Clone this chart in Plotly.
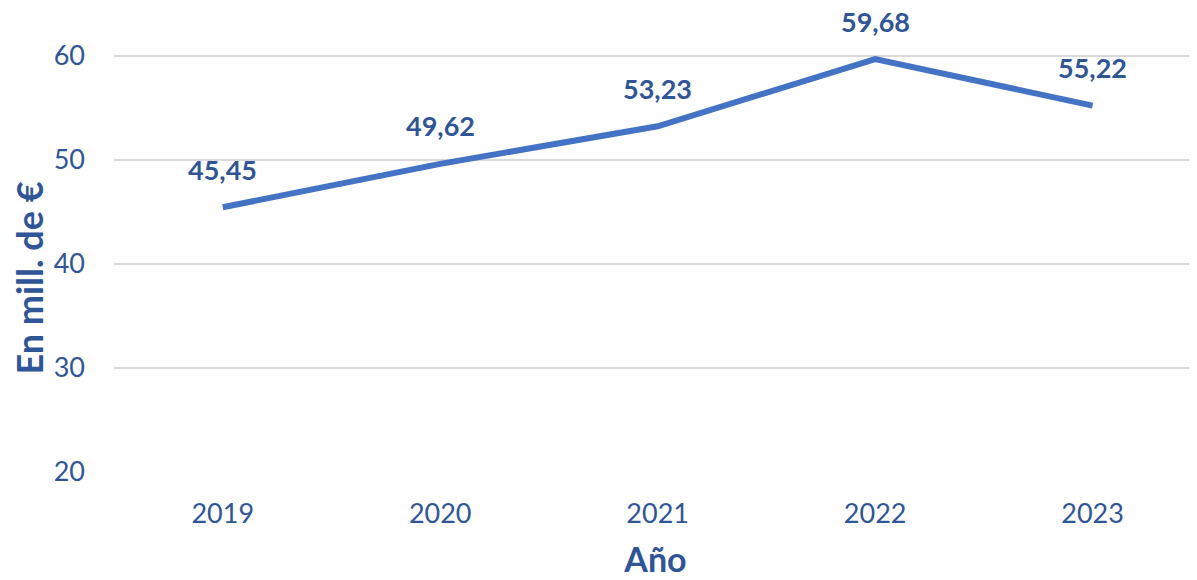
import plotly.graph_objects as go

TEXT_COLOR = "#2F5597"
LINE_COLOR = "#4472C4"
GRID_COLOR = "#D9D9D9"
FONT = "Lato"

YEARS = ['2019', '2020', '2021', '2022', '2023']
VALUES = [45.45, 49.62, 53.23, 59.68, 55.22]
LABELS = ['45,45', '49,62', '53,23', '59,68', '55,22']
Y_TICKS = [20, 30, 40, 50, 60]

fig = go.Figure()

fig.add_trace(
    go.Scatter(
        x=YEARS,
        y=VALUES,
        mode='lines',
        line=dict(color=LINE_COLOR, width=6),
        hoverinfo='skip',
        showlegend=False
    )
)

# data labels above each point (category index used for x)
for i, (value, label) in enumerate(zip(VALUES, LABELS)):
    fig.add_annotation(
        x=i, y=value, text=f"<b>{label}</b>",
        showarrow=False, yshift=38, yanchor='middle',
        font=dict(family=FONT, size=27, color=TEXT_COLOR)
    )

# y title as annotation: it sits lower than the plot centre in the original
fig.add_annotation(
    xref='paper', yref='paper', x=-0.078, y=0.418,
    text="<b>En mill. de €</b>", textangle=-90,
    showarrow=False, xanchor='center', yanchor='middle',
    font=dict(family=FONT, size=36, color=TEXT_COLOR)
)

# page body has an 8px margin, so the figure is sized a bit smaller
fig.update_layout(
    width=1189,
    height=572,
    plot_bgcolor="white",
    paper_bgcolor="white",
    margin=dict(l=106, r=0, t=0, b=108),
    font=dict(family=FONT, color=TEXT_COLOR, size=27),
    xaxis=dict(
        type='category',
        range=[-0.5, 4.48],
        showgrid=False,
        showline=False,
        ticks='',
        ticklabelstandoff=23,
        tickfont=dict(size=27, color=TEXT_COLOR),
        title=dict(text="<b>Año</b>", standoff=20,
                   font=dict(size=34, color=TEXT_COLOR)),
    ),
    yaxis=dict(
        range=[20, 64.6],
        tickvals=Y_TICKS,
        showgrid=True,
        gridcolor=GRID_COLOR,
        gridwidth=1.5,
        zeroline=False,
        showline=False,
        ticks='',
        ticklabelstandoff=28,
        tickfont=dict(size=27, color=TEXT_COLOR),
    ),
)

fig.write_html("out.html")
